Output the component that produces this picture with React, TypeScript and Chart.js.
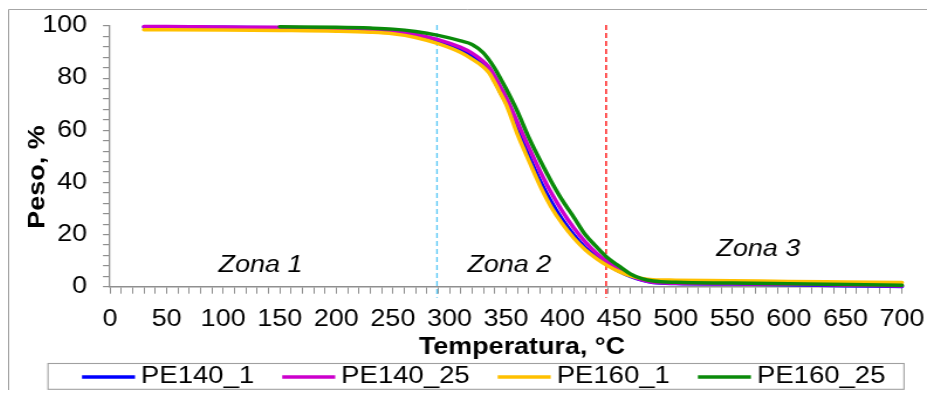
import React, { useEffect, useRef } from 'react';
import { Chart, registerables } from 'chart.js';

Chart.register(...registerables);

// ---------- data ----------
const temperatures = [30, 50, 100, 150, 200, 230, 250, 270, 290, 310, 320, 330, 335, 340, 345, 350, 360, 370, 380, 390, 400, 410, 420, 430, 440, 450, 460, 470, 480, 500, 550, 600, 650, 700];

const pe140_1 = [99.6, 99.6, 99.5, 99.3, 99.0, 98.6, 97.9, 96.6, 94.2, 90.9, 88.5, 85.0, 82.6, 78.8, 74.6, 70.6, 60.5, 50.3, 40.8, 32.6, 25.6, 19.8, 15.0, 11.4, 8.5, 5.9, 3.9, 2.5, 1.6, 1.2, 1.0, 0.7, 0.4, 0.1];
const pe140_25 = [99.8, 99.8, 99.6, 99.5, 99.1, 98.7, 98.0, 96.8, 94.8, 91.8, 89.6, 86.4, 84.2, 80.8, 76.8, 72.8, 63.2, 53.6, 44.4, 36.0, 28.8, 22.5, 17.2, 12.8, 9.4, 6.4, 4.2, 2.6, 1.7, 1.3, 1.1, 0.9, 0.6, 0.3];
const pe160_1 = [98.6, 98.6, 98.5, 98.3, 98.0, 97.6, 97.0, 95.6, 93.2, 89.8, 87.3, 84.3, 82.0, 78.3, 74.2, 70.0, 58.6, 48.5, 38.8, 30.5, 24.0, 18.6, 14.2, 10.8, 8.0, 5.8, 4.2, 3.2, 2.7, 2.5, 2.3, 2.0, 1.8, 1.6];
const pe160_25 = [null, null, null, 99.7, 99.5, 99.2, 98.8, 97.9, 96.4, 94.3, 92.9, 89.7, 87.0, 83.8, 80.0, 76.0, 67.3, 57.4, 48.6, 40.4, 33.0, 26.6, 20.0, 15.3, 11.0, 7.9, 4.9, 3.1, 2.2, 1.7, 1.4, 1.1, 0.8, 0.6];

const seriesNames = ['PE140_1', 'PE140_25', 'PE160_1', 'PE160_25'];
const seriesValues = [pe140_1, pe140_25, pe160_1, pe160_25];
const seriesColors = ['#0000FF', '#CC00CC', '#FFC000', '#0A8A0A'];

const xMin = 0, xMax = 700, xMinorStep = 10, xLabelStep = 50;
const yMin = 0, yMax = 100, yMinorStep = 4, yLabelStep = 20;

const zoneNames = ['Zona 1', 'Zona 2', 'Zona 3'];
const zoneTemps = [133, 353, 573];
const zoneWeights = [8, 8, 14.2];

const boundaryTemps = [289, 438.5];
const boundaryColors = ['#5BC8F5', '#FF0000'];

const xTitle = 'Temperatura, °C';
const yTitle = 'Peso, %';

// ---------- layout ----------
const CSS_W = 919;
const CSS_H = 382;
const W = 785; // internal canvas width, stretched horizontally by CSS
const SX = CSS_W / W;
const px = (pageX: number) => (pageX - 8) / SX;
const py = (pageY: number) => pageY - 8;

const FONT = "'Liberation Sans', Arial, sans-serif";
const AXIS_COLOR = '#8f8f8f';
const PLOT_LEFT = px(110);
const PLOT_RIGHT = px(902);
const PLOT_TOP = py(26);
const PLOT_BOTTOM = py(286.7);
const PAD_BOTTOM = 30;

const zeroPadding = (s: any) => {
  s.paddingTop = 0;
  s.paddingBottom = 0;
  s.paddingLeft = 0;
  s.paddingRight = 0;
};

const decorPlugin = {
  id: 'decor',
  beforeDatasetsDraw(chart: any) {
    const { ctx, chartArea, scales } = chart;
    ctx.save();
    ctx.lineWidth = 1.3;
    ctx.setLineDash([5, 3]);
    boundaryTemps.forEach((t, i) => {
      const x = scales.x.getPixelForValue(t);
      ctx.strokeStyle = boundaryColors[i];
      ctx.beginPath();
      ctx.moveTo(x, chartArea.top - 1);
      ctx.lineTo(x, chartArea.bottom + 11);
      ctx.stroke();
    });
    ctx.restore();
  },
  afterDraw(chart: any) {
    const { ctx, scales } = chart;
    ctx.save();
    // outer frame (left + top visible)
    ctx.strokeStyle = '#a6a6a6';
    ctx.lineWidth = 1;
    ctx.beginPath();
    ctx.moveTo(0.5, CSS_H);
    ctx.lineTo(0.5, 1.5);
    ctx.lineTo(W, 1.5);
    ctx.stroke();

    // zone labels
    ctx.fillStyle = '#000';
    ctx.textAlign = 'center';
    ctx.textBaseline = 'middle';
    ctx.font = `italic 23px ${FONT}`;
    zoneNames.forEach((name, i) => {
      ctx.fillText(name, scales.x.getPixelForValue(zoneTemps[i]), scales.y.getPixelForValue(zoneWeights[i]));
    });

    // axis titles
    ctx.font = `bold 23px ${FONT}`;
    ctx.fillText(xTitle, px(522), py(348));
    ctx.save();
    ctx.translate(px(38), py(177));
    ctx.rotate(-Math.PI / 2);
    ctx.scale(SX, 1 / SX);
    ctx.fillText(yTitle, 0, 0);
    ctx.restore();

    // legend
    const boxL = px(48), boxR = px(904), boxT = py(363) + 0.5, boxB = CSS_H - 0.7;
    ctx.strokeStyle = '#a0a0a0';
    ctx.lineWidth = 1.1;
    ctx.strokeRect(boxL, boxT, boxR - boxL, boxB - boxT);
    ctx.font = `23.5px ${FONT}`;
    ctx.textAlign = 'left';
    const ly = py(377);
    const lineLen = 53 / SX;
    const textGap = 6 / SX;
    const itemGap = 28 / SX;
    let x = px(82);
    seriesNames.forEach((name, i) => {
      ctx.strokeStyle = seriesColors[i];
      ctx.lineWidth = 3.4;
      ctx.lineCap = 'butt';
      ctx.beginPath();
      ctx.moveTo(x, ly);
      ctx.lineTo(x + lineLen, ly);
      ctx.stroke();
      const tx = x + lineLen + textGap;
      ctx.fillStyle = '#000';
      ctx.fillText(name, tx, ly);
      x = tx + ctx.measureText(name).width + itemGap;
    });
    ctx.restore();
  },
};

export default function App() {
  const ref = useRef<HTMLCanvasElement>(null);

  useEffect(() => {
    if (!ref.current) return;
    const datasets = seriesNames.map((name, i) => ({
      label: name,
      data: temperatures.map((t, j) => ({ x: t, y: seriesValues[i][j] })),
      borderColor: seriesColors[i],
      backgroundColor: seriesColors[i],
      borderWidth: 3.5,
      pointRadius: 0,
      cubicInterpolationMode: 'monotone' as const,
      borderCapStyle: 'round' as const,
      borderJoinStyle: 'round' as const,
      order: seriesNames.length - i,
      clip: false as const,
      spanGaps: false,
    }));

    const chart = new Chart(ref.current, {
      type: 'line',
      data: { datasets },
      options: {
        responsive: false,
        animation: false,
        devicePixelRatio: 1,
        layout: { padding: { left: 0, right: W - PLOT_RIGHT, top: PLOT_TOP, bottom: PAD_BOTTOM } },
        plugins: {
          legend: { display: false },
          tooltip: { enabled: false },
          title: { display: false },
        },
        scales: {
          x: {
            type: 'linear',
            min: xMin,
            max: xMax,
            afterFit: (s: any) => { s.height = CSS_H - PAD_BOTTOM - PLOT_BOTTOM; zeroPadding(s); },
            border: { display: true, color: AXIS_COLOR, width: 1.4 },
            grid: { drawOnChartArea: false, drawTicks: true, tickLength: 7, color: AXIS_COLOR, lineWidth: 1 },
            ticks: {
              stepSize: xMinorStep,
              autoSkip: false,
              maxRotation: 0,
              minRotation: 0,
              padding: 12,
              color: '#000',
              font: { family: FONT, size: 23 },
              callback: (v: any) => (Number(v) % xLabelStep === 0 ? String(v) : ''),
            },
          },
          y: {
            type: 'linear',
            min: yMin,
            max: yMax,
            afterFit: (s: any) => { s.width = PLOT_LEFT; zeroPadding(s); },
            border: { display: true, color: AXIS_COLOR, width: 1.3 },
            grid: { drawOnChartArea: false, drawTicks: true, tickLength: 6, color: AXIS_COLOR, lineWidth: 1.2 },
            ticks: {
              stepSize: yMinorStep,
              autoSkip: false,
              padding: 13.5,
              color: '#000',
              font: { family: FONT, size: 23 },
              callback: (v: any) => (Number(v) % yLabelStep === 0 ? String(v) : ''),
            },
          },
        },
      },
      plugins: [decorPlugin],
    });
    return () => chart.destroy();
  }, []);

  return (
    <div style={{ width: CSS_W, height: CSS_H }}>
      <canvas
        ref={ref}
        width={W}
        height={CSS_H}
        style={{ width: `${CSS_W}px`, height: `${CSS_H}px`, display: 'block' }}
      />
    </div>
  );
}
